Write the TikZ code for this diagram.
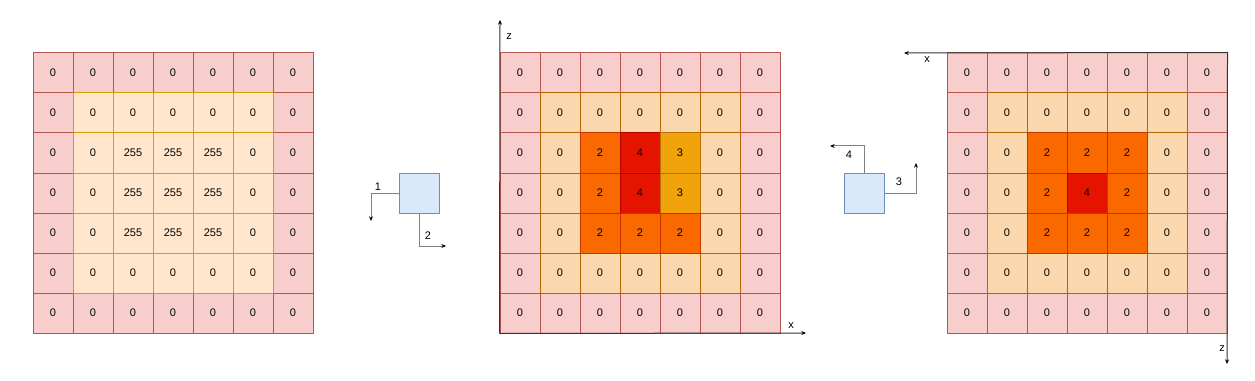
\documentclass[tikz,border=0pt]{standalone}
\usepackage{fontspec}
\setmainfont{Liberation Sans}
\usetikzlibrary{arrows.meta}
\definecolor{pinkF}{HTML}{F8CECC}\definecolor{pinkD}{HTML}{B85450}
\definecolor{loF}{HTML}{FFE6CC}\definecolor{loD}{HTML}{D79B00}
\definecolor{peF}{HTML}{FAD7AC}\definecolor{peD}{HTML}{B46504}
\definecolor{ogF}{HTML}{FA6800}\definecolor{ogD}{HTML}{C73500}
\definecolor{rdF}{HTML}{E51400}\definecolor{rdD}{HTML}{B20000}
\definecolor{amF}{HTML}{F0A30A}\definecolor{amD}{HTML}{BD7000}
\definecolor{boxF}{HTML}{DAE8FC}\definecolor{boxD}{HTML}{6C8EBF}
\definecolor{connC}{HTML}{808080}
\tikzset{
  txt/.style={font=\fontsize{8.25}{9.5}\selectfont, inner sep=0pt},
  cell/.style={txt, draw, minimum size=30pt, line width=0.75pt},
  pk/.style={cell, fill=pinkF, draw=pinkD},
  lo/.style={cell, fill=loF, draw=loD},
  pe/.style={cell, fill=peF, draw=peD},
  og/.style={cell, fill=ogF, draw=ogD},
  rd/.style={cell, fill=rdF, draw=rdD},
  am/.style={cell, fill=amF, draw=amD},
  blk/.style={draw=boxD, fill=boxF, minimum size=30pt, line width=0.75pt, inner sep=0pt},
  conn/.style={draw=connC, line width=0.75pt, -{Stealth[length=3.5pt,width=3pt,black]}},
  axis/.style={draw=black!80, line width=0.75pt, -{Stealth[length=3.5pt,width=3pt,black]}},
}
\newcommand\drawgrid[4]{%
  \foreach \r in {0,...,6}{\foreach \c in {0,...,6}{%
    \pgfmathtruncatemacro\ring{min(\r,\c,6-\r,6-\c)}%
    \ifnum\ring=0 \node[pk] (#1-\r-\c) at ({#2+20+40*\c},{73+40*\r}) {0};\fi
  }}%
  \foreach \r in {0,...,6}{\foreach \c in {0,...,6}{%
    \pgfmathtruncatemacro\ring{min(\r,\c,6-\r,6-\c)}%
    \ifnum\ring=1 \node[#3] (#1-\r-\c) at ({#2+20+40*\c},{73+40*\r}) {0};\fi
  }}%
  \foreach \r/\c/\s/\v in {#4}{%
    \node[\s] (#1-\r-\c) at ({#2+20+40*\c},{73+40*\r}) {\v};
  }%
}
\begin{document}
\begin{tikzpicture}[x=0.75pt,y=-0.75pt]
\useasboundingbox (0,0) rectangle (1255,381);
% left grid
\drawgrid{L}{33}{lo}{2/2/lo/255,2/3/lo/255,2/4/lo/255,3/2/lo/255,3/3/lo/255,3/4/lo/255,4/2/lo/255,4/3/lo/255,4/4/lo/255}
% middle grid
\drawgrid{M}{500}{pe}{2/2/og/2,2/3/rd/4,2/4/am/3,3/2/og/2,3/3/rd/4,3/4/am/3,4/2/og/2,4/3/og/2,4/4/og/2}
% right grid
\drawgrid{R}{947}{pe}{2/2/og/2,2/3/og/2,2/4/og/2,3/2/og/2,3/3/rd/4,3/4/og/2,4/2/og/2,4/3/og/2,4/4/og/2}
% middle axes
\coordinate (mz) at (500,20);
\coordinate (mx) at (806,333);
\draw[axis] (M-6-0.south west) -- (mz);
\draw[axis] (M-6-0.south west) -- (mx);
\node[txt] (mzl) at (509,37) {z};
\node[txt] (mxl) at (791,326) {x};
% right axes
\coordinate (rx) at (904,53);
\coordinate (rz) at (1227,364);
\draw[axis] (R-0-6.north east) -- (rx);
\draw[axis] (R-0-6.north east) -- (rz);
\node[txt] (rxl) at (927,60) {x};
\node[txt] (rzl) at (1222,349) {z};
% left block
\node[blk] (B1) at (419,193) {};
\coordinate (e1) at (371,221);
\coordinate (e2) at (446,246);
\draw[conn] (B1.west) -| (e1);
\draw[conn] (B1.south) |- (e2);
\node[txt] (l1) at (378,187) {1};
\node[txt] (l2) at (428,236) {2};
% right block
\node[blk] (B2) at (864,193) {};
\coordinate (e4) at (830,146);
\coordinate (e3) at (916,163);
\draw[conn] (B2.north) |- (e4);
\draw[conn] (B2.east) -| (e3);
\node[txt] (l4) at (849,155) {4};
\node[txt] (l3) at (899,182) {3};
\end{tikzpicture}
\end{document}
